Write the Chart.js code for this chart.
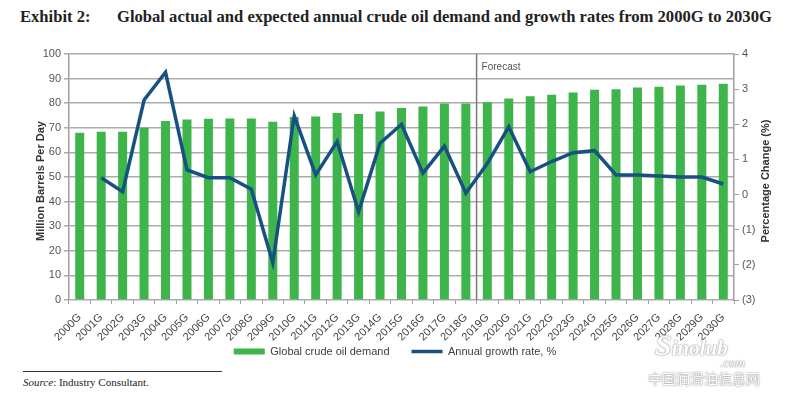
<!DOCTYPE html>
<html lang="en">
<head>
  <meta charset="UTF-8" />
  <title>Global crude oil demand 2000G-2030G</title>
  <script src="https://cdn.jsdelivr.net/npm/chart.js"></script>
  <style>
    body {
      margin: 0;
      width: 790px;
      height: 399px;
      background: #fff;
      position: relative;
      overflow: hidden;
      font-family: Arial, "Liberation Sans", sans-serif;
    }

    .title {
      position: absolute;
      top: 7px;
      left: 20px;
      font-family: "Liberation Serif", "Times New Roman", serif;
      font-weight: bold;
      font-size: 16.6px;
      color: #222;
      white-space: nowrap;
    }

    .title .main {
      position: absolute;
      left: 97px;
      top: 0;
    }

    .chart-box {
      position: absolute;
      left: 0;
      top: 0;
      width: 790px;
      height: 367px;
    }

    .axis-title {
      position: absolute;
      width: 200px;
      text-align: center;
      font-size: 11px;
      font-weight: bold;
      color: #333;
      transform: rotate(-90deg);
      white-space: nowrap;
    }

    .rule {
      position: absolute;
      left: 23px;
      top: 371px;
      width: 199px;
      border-top: 1px solid #333;
    }

    .source {
      position: absolute;
      left: 23px;
      top: 376px;
      font-family: "Liberation Serif", "Times New Roman", serif;
      font-size: 11px;
      color: #222;
    }

    .wm {
      position: absolute;
      color: #fff;
      text-shadow: 0 0 2px #888, 0 0 1px #999;
      white-space: nowrap;
    }
  </style>
</head>
<body>
  <div class="title">Exhibit 2:<span class="main">Global actual and expected annual crude oil demand and growth rates from 2000G to 2030G</span></div>

  <div class="chart-box">
    <canvas id="oilChart" width="790" height="367"></canvas>
  </div>

  <div class="axis-title" style="left:-60px; top:175px;">Million Barrels Per Day</div>
  <div class="axis-title" style="left:665px; top:175px;">Percentage Change (%)</div>

  <div class="rule"></div>
  <div class="source"><i>Source</i>: Industry Consultant.</div>

  <!-- watermark -->
  <div class="wm" style="left:655px; top:328px; font: italic bold 30px 'Liberation Serif', serif;">S<span style="font-size:21px;">inolub</span></div>
  <div class="wm" style="left:720px; top:355px; font: italic 13px 'Liberation Serif', serif;">.com</div>
  <div class="wm" style="left:648px; top:368px; font-size:14px; font-family:'Noto Sans CJK SC', sans-serif;">中国润滑油信息网</div>

  <script>
    const years = ['2000G', '2001G', '2002G', '2003G', '2004G', '2005G', '2006G', '2007G',
      '2008G', '2009G', '2010G', '2011G', '2012G', '2013G', '2014G', '2015G', '2016G',
      '2017G', '2018G', '2019G', '2020G', '2021G', '2022G', '2023G', '2024G', '2025G',
      '2026G', '2027G', '2028G', '2029G', '2030G'];

    // million barrels per day
    const demand = [68.0, 68.4, 68.4, 70.0, 72.8, 73.4, 73.7, 73.8, 73.8, 72.5,
      74.4, 74.6, 76.0, 75.6, 76.6, 78.0, 78.7, 79.9, 79.9, 80.4,
      81.9, 82.8, 83.4, 84.4, 85.5, 85.7, 86.4, 86.7, 87.2, 87.5, 87.9];

    // annual growth, %
    const growth = [null, 0.48, 0.08, 2.69, 3.48, 0.70, 0.48, 0.48, 0.15, -1.94,
      2.24, 0.56, 1.51, -0.49, 1.46, 2.00, 0.61, 1.38, 0.04, 0.88,
      1.93, 0.65, 0.94, 1.19, 1.25, 0.56, 0.56, 0.53, 0.50, 0.50, 0.30];

    const firstForecast = '2019G';

    const forecastMarker = {
      id: 'forecastMarker',
      beforeDatasetsDraw(chart) {
        const { ctx, chartArea, scales } = chart;
        const i = years.indexOf(firstForecast);
        const x = (scales.x.getPixelForValue(i - 1) + scales.x.getPixelForValue(i)) / 2;
        ctx.save();
        ctx.strokeStyle = '#7a7a7a';
        ctx.lineWidth = 1.5;
        ctx.beginPath();
        ctx.moveTo(x, chartArea.top);
        ctx.lineTo(x, chartArea.bottom);
        ctx.stroke();
        ctx.fillStyle = '#555';
        ctx.font = '10px Arial';
        ctx.textBaseline = 'middle';
        ctx.fillText('Forecast', x + 5, chartArea.top + 13);
        ctx.restore();
      }
    };

    // the x labels hang down into the legend band; stop the scale from clipping them
    const unclipXLabels = {
      id: 'unclipXLabels',
      afterLayout(chart) {
        chart.scales.x.bottom = chart.height;
      }
    };

    const ctx = document.getElementById('oilChart').getContext('2d');
    const oilChart = new Chart(ctx, {
      type: 'bar',
      data: {
        labels: years,
        datasets: [{
          label: 'Global crude oil demand',
          data: demand,
          backgroundColor: '#3db54a',
          categoryPercentage: 1,
          barPercentage: 0.42,
          yAxisID: 'y',
          order: 2
        }, {
          type: 'line',
          label: 'Annual growth rate, %',
          data: growth,
          borderColor: '#175182',
          backgroundColor: '#175182',
          borderWidth: 3.5,
          pointRadius: 0,
          tension: 0,
          yAxisID: 'y2',
          order: 1
        }]
      },
      options: {
        responsive: false,
        animation: false,
        layout: { padding: { top: 54, left: 0, right: 0, bottom: 0 } },
        plugins: {
          tooltip: { enabled: false },
          legend: {
            position: 'bottom',
            labels: {
              usePointStyle: true,
              pointStyleWidth: 31,
              boxHeight: 6,
              color: '#404040',
              font: { size: 11, family: 'Arial' },
              padding: 22,
              sort: (a, b) => a.datasetIndex - b.datasetIndex,
              generateLabels(chart) {
                const items = Chart.defaults.plugins.legend.labels.generateLabels(chart);
                items.forEach(item => {
                  item.pointStyle = item.datasetIndex === 0 ? 'rect' : 'line';
                  if (item.datasetIndex === 1) item.lineWidth = 3.5;
                });
                return items;
              }
            }
          }
        },
        scales: {
          x: {
            offset: true,
            grid: { display: true, drawOnChartArea: false, offset: true, tickLength: 4, color: '#a0a0a0' },
            border: { display: false },
            ticks: {
              autoSkip: false,
              minRotation: 45,
              maxRotation: 45,
              padding: 7,
              color: '#444',
              font: { size: 11, family: 'Arial' }
            },
            afterFit(scale) { scale.height = 24; }
          },
          y: {
            position: 'left',
            min: 0,
            max: 100,
            ticks: { stepSize: 10, padding: 3, color: '#555', font: { size: 11, family: 'Arial' } },
            grid: { color: '#ababab', lineWidth: 1.5, tickLength: 5 },
            border: { color: '#a0a0a0', width: 1.5 },
            afterFit(scale) { scale.width = 69; }
          },
          y2: {
            position: 'right',
            min: -3,
            max: 4,
            ticks: {
              stepSize: 1,
              padding: 3,
              color: '#555',
              font: { size: 11, family: 'Arial' },
              callback: v => v < 0 ? '(' + Math.abs(v) + ')' : String(v)
            },
            grid: { drawOnChartArea: false, color: '#a0a0a0', tickLength: 5 },
            border: { color: '#a0a0a0', width: 1.5 },
            afterFit(scale) { scale.width = 56; }
          }
        }
      },
      plugins: [forecastMarker, unclipXLabels]
    });
  </script>
</body>
</html>
